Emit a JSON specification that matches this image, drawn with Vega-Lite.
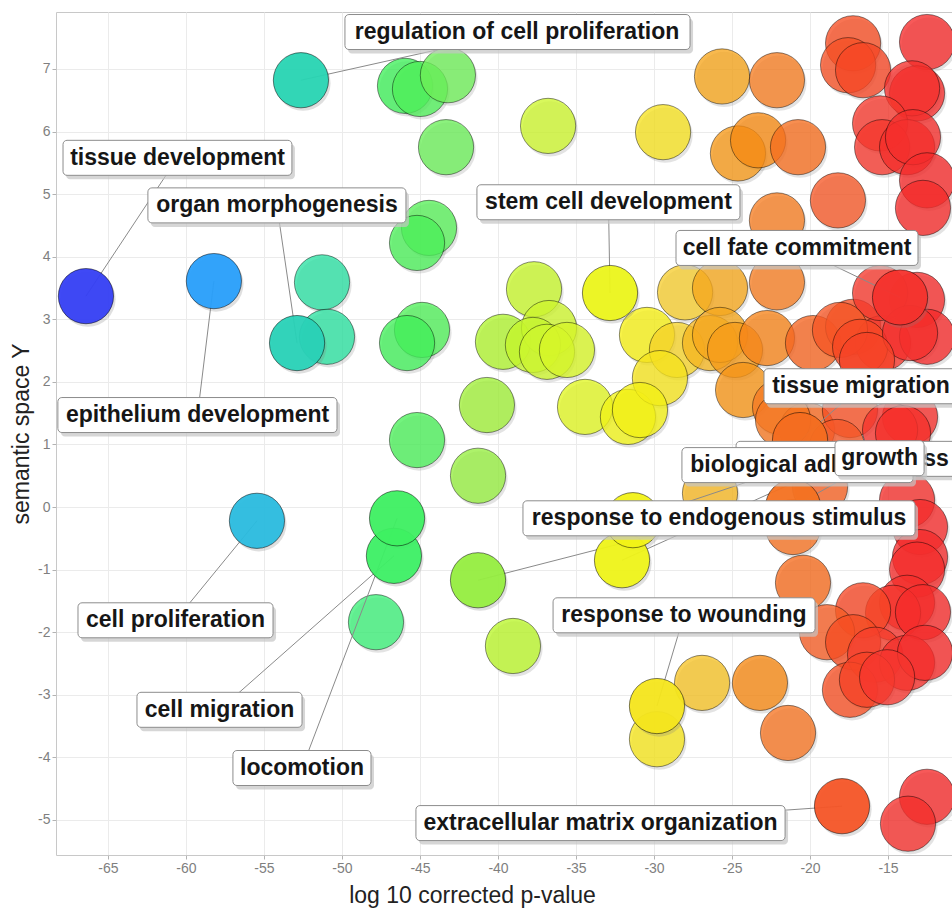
{
  "$schema": "https://vega.github.io/schema/vega-lite/v6.json",
  "width": 896,
  "height": 843,
  "autosize": {"type": "none"},
  "padding": {"left": 56, "top": 12, "right": 0, "bottom": 53},
  "background": "white",
  "config": {
    "view": {"stroke": "#c8c8c8", "strokeWidth": 1},
    "axis": {
      "grid": true,
      "gridColor": "#ebebeb",
      "gridWidth": 1,
      "domain": false,
      "tickColor": "#b3b3b3",
      "tickSize": 4,
      "labelColor": "#7f7f7f",
      "labelFont": "Liberation Sans",
      "labelFontSize": 14,
      "titleFont": "Liberation Sans",
      "titleFontSize": 23,
      "titleFontWeight": "normal",
      "titleColor": "#222222"
    }
  },
  "datasets": {
    "terms": [
      {"x": -51.28, "y": 3.59}, {"x": -50.96, "y": 2.72},
      {"x": -45.96, "y": 6.73}, {"x": -45.0, "y": 6.68}, {"x": -43.21, "y": 6.9},
      {"x": -43.33, "y": 5.75}, {"x": -36.79, "y": 6.09},
      {"x": -44.42, "y": 4.46}, {"x": -45.19, "y": 4.22},
      {"x": -44.87, "y": 2.83}, {"x": -45.83, "y": 2.62},
      {"x": -40.71, "y": 1.63}, {"x": -45.19, "y": 1.07}, {"x": -41.28, "y": 0.5},
      {"x": -37.69, "y": 3.48}, {"x": -39.68, "y": 2.64}, {"x": -36.73, "y": 2.86},
      {"x": -37.76, "y": 2.59}, {"x": -36.86, "y": 2.48}, {"x": -35.58, "y": 2.51},
      {"x": -34.42, "y": 1.6}, {"x": -31.67, "y": 1.44},
      {"x": -47.82, "y": -1.84}, {"x": -39.04, "y": -2.22},
      {"x": -29.42, "y": 5.99}, {"x": -25.64, "y": 6.88}, {"x": -22.12, "y": 6.82},
      {"x": -24.62, "y": 5.65}, {"x": -23.33, "y": 5.86}, {"x": -20.77, "y": 5.75},
      {"x": -22.12, "y": 4.58}, {"x": -18.21, "y": 4.9},
      {"x": -28.01, "y": 3.43}, {"x": -25.77, "y": 3.5}, {"x": -22.12, "y": 3.59},
      {"x": -30.45, "y": 2.75}, {"x": -28.53, "y": 2.51}, {"x": -26.41, "y": 2.62},
      {"x": -25.77, "y": 2.75}, {"x": -24.81, "y": 2.51}, {"x": -22.76, "y": 2.7},
      {"x": -29.62, "y": 2.06}, {"x": -30.9, "y": 1.55}, {"x": -24.29, "y": 1.87},
      {"x": -19.81, "y": 2.62},
      {"x": -17.24, "y": 7.41}, {"x": -17.56, "y": 7.06}, {"x": -16.6, "y": 6.98},
      {"x": -12.5, "y": 7.43}, {"x": -13.14, "y": 6.61}, {"x": -13.46, "y": 6.69},
      {"x": -15.51, "y": 6.13}, {"x": -15.38, "y": 5.75}, {"x": -13.78, "y": 5.75},
      {"x": -13.4, "y": 5.91}, {"x": -12.5, "y": 5.22}, {"x": -12.76, "y": 4.78},
      {"x": -17.24, "y": 2.88}, {"x": -15.32, "y": 2.62}, {"x": -13.14, "y": 3.31},
      {"x": -15.51, "y": 3.42}, {"x": -12.5, "y": 2.72}, {"x": -18.08, "y": 2.83},
      {"x": -16.79, "y": 2.56}, {"x": -13.59, "y": 2.78}, {"x": -16.35, "y": 2.35},
      {"x": -21.92, "y": 1.6}, {"x": -20.19, "y": 1.23}, {"x": -17.44, "y": 1.55},
      {"x": -13.59, "y": 1.44}, {"x": -14.87, "y": 1.23}, {"x": -21.73, "y": 1.39},
      {"x": -18.27, "y": 0.96}, {"x": -14.04, "y": 1.18},
      {"x": -26.41, "y": 0.22}, {"x": -21.09, "y": -0.32}, {"x": -19.36, "y": 0.32},
      {"x": -13.78, "y": 0.11}, {"x": -12.95, "y": -0.32}, {"x": -12.95, "y": -0.8},
      {"x": -20.45, "y": -1.21}, {"x": -13.14, "y": -1.0}, {"x": -13.78, "y": -1.53},
      {"x": -14.68, "y": -1.69}, {"x": -12.76, "y": -1.68}, {"x": -16.6, "y": -1.65},
      {"x": -18.91, "y": -2.0}, {"x": -17.24, "y": -2.16}, {"x": -15.83, "y": -2.36},
      {"x": -13.78, "y": -2.49}, {"x": -12.63, "y": -2.33}, {"x": -17.44, "y": -2.92},
      {"x": -16.35, "y": -2.76}, {"x": -15.06, "y": -2.72},
      {"x": -29.81, "y": -3.71}, {"x": -26.92, "y": -2.81}, {"x": -23.21, "y": -2.81},
      {"x": -21.41, "y": -3.61}, {"x": -12.5, "y": -4.63}, {"x": -13.72, "y": -5.06}
    ],
    "labels": [
      {"term": "response to stress", "x": -32.05, "y": -0.85, "lx": -17.66, "ly": 0.77, "lx1": -24.74, "lx2": -10.58},
      {"term": "biological adhesion", "x": -31.35, "y": -0.21, "lx": -20.8, "ly": 0.67, "lx1": -28.21, "lx2": -13.4},
      {"term": "regulation of cell proliferation", "x": -52.63, "y": 6.82, "lx": -38.78, "ly": 7.59, "lx1": -49.81, "lx2": -27.69},
      {"term": "tissue development", "x": -66.41, "y": 3.37, "lx": -60.54, "ly": 5.58, "lx1": -67.88, "lx2": -53.21},
      {"term": "organ morphogenesis", "x": -52.88, "y": 2.62, "lx": -54.17, "ly": 4.82, "lx1": -62.44, "lx2": -45.9},
      {"term": "stem cell development", "x": -32.82, "y": 3.42, "lx": -32.92, "ly": 4.87, "lx1": -41.35, "lx2": -24.49},
      {"term": "cell fate commitment", "x": -14.23, "y": 3.35, "lx": -20.83, "ly": 4.14, "lx1": -28.59, "lx2": -13.08},
      {"term": "epithelium development", "x": -58.21, "y": 3.61, "lx": -59.26, "ly": 1.47, "lx1": -68.21, "lx2": -50.32},
      {"term": "tissue migration", "x": -20.64, "y": 1.07, "lx": -16.73, "ly": 1.93, "lx1": -22.95, "lx2": -10.51},
      {"term": "growth", "x": -21.09, "y": 0.0, "lx": -15.54, "ly": 0.78, "lx1": -18.4, "lx2": -12.69},
      {"term": "response to endogenous stimulus", "x": -41.28, "y": -1.17, "lx": -25.83, "ly": -0.18, "lx1": -38.4, "lx2": -13.27},
      {"term": "response to wounding", "x": -29.81, "y": -3.18, "lx": -28.08, "ly": -1.73, "lx1": -36.47, "lx2": -19.68},
      {"term": "cell proliferation", "x": -55.45, "y": -0.22, "lx": -60.67, "ly": -1.81, "lx1": -66.92, "lx2": -54.42},
      {"term": "cell migration", "x": -46.67, "y": -0.78, "lx": -57.85, "ly": -3.24, "lx1": -63.14, "lx2": -52.56},
      {"term": "locomotion", "x": -46.47, "y": -0.18, "lx": -52.56, "ly": -4.17, "lx1": -56.99, "lx2": -48.14},
      {"term": "extracellular matrix organization", "x": -17.95, "y": -4.78, "lx": -33.43, "ly": -5.05, "lx1": -45.26, "lx2": -21.6}
    ]
  },
  "encoding": {
    "x": {
      "field": "x",
      "type": "quantitative",
      "title": "log 10 corrected p-value",
      "scale": {"domain": [-68.33, -10.9], "nice": false, "zero": false},
      "axis": {
        "values": [-65, -60, -55, -50, -45, -40, -35, -30, -25, -20, -15],
        "labelExpr": "toString(datum.value)",
        "labelPadding": 2,
        "titleX": 416,
        "titleY": 47,
        "titleBaseline": "alphabetic",
        "titleAlign": "center"
      }
    },
    "y": {
      "field": "y",
      "type": "quantitative",
      "title": "semantic space Y",
      "scale": {"domain": [-5.56, 7.91], "nice": false, "zero": false},
      "axis": {
        "values": [-5, -4, -3, -2, -1, 0, 1, 2, 3, 4, 5, 6, 7],
        "labelExpr": "toString(datum.value)",
        "labelPadding": 2,
        "titleX": -35,
        "titleY": 421.5,
        "titleAngle": -90,
        "titleBaseline": "middle",
        "titleAlign": "center"
      }
    }
  },
  "layer": [
    {
      "data": {"name": "terms"},
      "mark": {"type": "circle", "size": 3050, "color": "#808080", "opacity": 0.22, "xOffset": 2, "yOffset": 3, "clip": true}
    },
    {
      "data": {"name": "terms"},
      "mark": {"type": "circle", "size": 3050, "fillOpacity": 0.78, "stroke": "#000000", "strokeOpacity": 0.45, "strokeWidth": 1, "clip": true},
      "encoding": {
        "color": {
          "field": "x",
          "type": "quantitative",
          "legend": null,
          "scale": {
            "domain": [-66.5, -58.2, -55.5, -52.7, -51, -48, -46, -43.3, -41, -39, -36.8, -33, -30.5, -28, -26.9, -25.6, -23.2, -22, -20.4, -18.2, -17, -15.4, -12.5],
            "range": ["#353ef4", "#289ffb", "#2abce0", "#28d4b4", "#2ce2a0", "#3cf07c", "#3ef05a", "#6cee5a", "#9cee3c", "#bbf62a", "#cdf62e", "#ebf61c", "#f6f014", "#f6cd30", "#f6c326", "#f6a41c", "#f68812", "#f67c24", "#f66a1e", "#f65828", "#f64a22", "#f6382e", "#f52a2a"],
            "interpolate": "rgb"
          }
        }
      }
    },
    {
      "data": {"name": "labels"},
      "mark": {"type": "rule", "color": "#8a8a8a", "strokeWidth": 1, "clip": true},
      "encoding": {
        "x2": {"field": "lx"},
        "y2": {"field": "ly"}
      }
    },
    {
      "data": {"name": "labels"},
      "mark": {"type": "circle", "size": 3050, "color": "#808080", "opacity": 0.25, "xOffset": 2, "yOffset": 3, "clip": true}
    },
    {
      "data": {"name": "labels"},
      "mark": {"type": "circle", "size": 3050, "fillOpacity": 0.95, "stroke": "#000000", "strokeOpacity": 0.5, "strokeWidth": 1, "clip": true},
      "encoding": {
        "color": {
          "field": "x",
          "type": "quantitative",
          "legend": null,
          "scale": {
            "domain": [-66.5, -58.2, -55.5, -52.7, -51, -48, -46, -43.3, -41, -39, -36.8, -33, -30.5, -28, -26.9, -25.6, -23.2, -22, -20.4, -18.2, -17, -15.4, -12.5],
            "range": ["#353ef4", "#289ffb", "#2abce0", "#28d4b4", "#2ce2a0", "#3cf07c", "#3ef05a", "#6cee5a", "#9cee3c", "#bbf62a", "#cdf62e", "#ebf61c", "#f6f014", "#f6cd30", "#f6c326", "#f6a41c", "#f68812", "#f67c24", "#f66a1e", "#f65828", "#f64a22", "#f6382e", "#f52a2a"],
            "interpolate": "rgb"
          }
        }
      }
    },
    {
      "data": {"name": "labels"},
      "transform": [{"filter": "datum.term === 'response to stress'"}],
      "layer": [
        {"mark": {"type": "rect", "height": 35, "color": "#c4c4c4", "opacity": 0.7, "cornerRadius": 4, "xOffset": 3, "x2Offset": 3, "yOffset": 4},
         "encoding": {"x": {"field": "lx1", "type": "quantitative"}, "x2": {"field": "lx2"}, "y": {"field": "ly", "type": "quantitative"}}},
        {"mark": {"type": "rect", "height": 35, "fill": "#ffffff", "stroke": "#8c8c8c", "strokeWidth": 1, "cornerRadius": 4},
         "encoding": {"x": {"field": "lx1", "type": "quantitative"}, "x2": {"field": "lx2"}, "y": {"field": "ly", "type": "quantitative"}}},
        {"mark": {"type": "text", "font": "Liberation Sans", "fontWeight": "bold", "fontSize": 23, "color": "#161616", "align": "center", "baseline": "middle"},
         "encoding": {"x": {"field": "lx", "type": "quantitative"}, "y": {"field": "ly", "type": "quantitative"}, "text": {"field": "term"}}}
      ]
    },
    {
      "data": {"name": "labels"},
      "transform": [{"filter": "datum.term === 'biological adhesion'"}],
      "layer": [
        {"mark": {"type": "rect", "height": 35, "color": "#c4c4c4", "opacity": 0.7, "cornerRadius": 4, "xOffset": 3, "x2Offset": 3, "yOffset": 4},
         "encoding": {"x": {"field": "lx1", "type": "quantitative"}, "x2": {"field": "lx2"}, "y": {"field": "ly", "type": "quantitative"}}},
        {"mark": {"type": "rect", "height": 35, "fill": "#ffffff", "stroke": "#8c8c8c", "strokeWidth": 1, "cornerRadius": 4},
         "encoding": {"x": {"field": "lx1", "type": "quantitative"}, "x2": {"field": "lx2"}, "y": {"field": "ly", "type": "quantitative"}}},
        {"mark": {"type": "text", "font": "Liberation Sans", "fontWeight": "bold", "fontSize": 23, "color": "#161616", "align": "center", "baseline": "middle"},
         "encoding": {"x": {"field": "lx", "type": "quantitative"}, "y": {"field": "ly", "type": "quantitative"}, "text": {"field": "term"}}}
      ]
    },
    {
      "data": {"name": "labels"},
      "transform": [{"filter": "datum.term !== 'response to stress' && datum.term !== 'biological adhesion'"}],
      "layer": [
        {"mark": {"type": "rect", "height": 35, "color": "#c4c4c4", "opacity": 0.7, "cornerRadius": 4, "xOffset": 3, "x2Offset": 3, "yOffset": 4},
         "encoding": {"x": {"field": "lx1", "type": "quantitative"}, "x2": {"field": "lx2"}, "y": {"field": "ly", "type": "quantitative"}}},
        {"mark": {"type": "rect", "height": 35, "fill": "#ffffff", "stroke": "#8c8c8c", "strokeWidth": 1, "cornerRadius": 4},
         "encoding": {"x": {"field": "lx1", "type": "quantitative"}, "x2": {"field": "lx2"}, "y": {"field": "ly", "type": "quantitative"}}},
        {"mark": {"type": "text", "font": "Liberation Sans", "fontWeight": "bold", "fontSize": 23, "color": "#161616", "align": "center", "baseline": "middle"},
         "encoding": {"x": {"field": "lx", "type": "quantitative"}, "y": {"field": "ly", "type": "quantitative"}, "text": {"field": "term"}}}
      ]
    }
  ]
}
